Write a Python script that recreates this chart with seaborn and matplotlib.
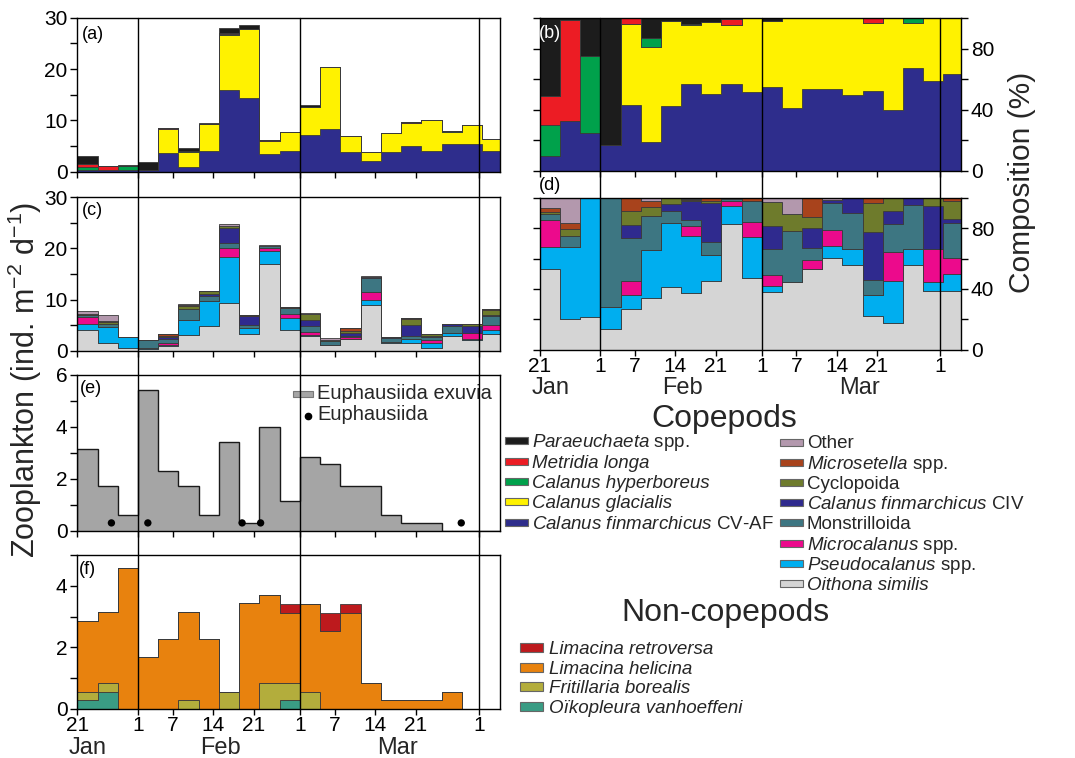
import numpy as np
import pandas as pd
import matplotlib
matplotlib.use("Agg")
import matplotlib.pyplot as plt
import seaborn as sns
from matplotlib.patches import Rectangle
from matplotlib.lines import Line2D
from matplotlib.ticker import MultipleLocator, FixedLocator
from matplotlib.transforms import blended_transform_factory

# ---------------- data ----------------
# sampling periods (day of year, 1 = 1 Jan), 3.5-day bins
bin_edges = [21.5, 25, 28.5, 32, 35.5, 39, 42.5, 46, 49.5, 53, 56.5,
             60, 63.5, 67, 70.5, 74, 77.5, 81, 84.5, 88, 91.5, 95]

tick_days = [21.5, 32, 38, 45, 52, 60, 66, 73, 80, 91]
tick_labels = ["21", "1", "7", "14", "21", "1", "7", "14", "21", "1"]
month_names = ["Jan", "Feb", "Mar"]
month_days = [23.3, 46.3, 76.9]
month_lines = [32, 60, 91]

# (a) large copepods: totals (ind. m-2 d-1) and (b) composition (%)
total_large = [3.05, 1.1, 1.4, 1.8, 8.6, 4.7, 9.5, 27.9, 28.5, 6.2, 7.8,
               12.9, 20.3, 6.95, 3.9, 7.5, 9.7, 10.1, 7.9, 9.1, 6.3]
pct_cfin_cv = [10, 33, 25, 17, 43, 19, 42.5, 57, 50.5, 57, 52,
               55, 41, 54, 53.5, 50, 52.5, 40, 67.5, 59, 63.5]
pct_glacialis = [0, 0, 0, 0, 53.5, 62, 56, 38.5, 47, 38.5, 48,
                 43, 59, 46, 46.5, 50, 44.5, 60, 29.5, 41, 36.5]
pct_hyperboreus = [20, 0, 50, 0, 0, 6, 0, 0.5, 0, 0, 0,
                   0, 0, 0, 0, 0, 0, 0, 3, 0, 0]
pct_metridia = [19, 66, 0, 0, 3.5, 0, 0, 0.5, 0, 4, 0,
                0, 0, 0, 0, 0, 3, 0, 0, 0, 0]
pct_paraeuchaeta = [51, 1, 25, 83, 0, 13, 1.5, 3.5, 2.5, 0.5, 0,
                    2, 0, 0, 0, 0, 0, 0, 0, 0, 0]

# (c) small copepods: totals and (d) composition (%)
total_small = [7.8, 7.0, 2.6, 2.1, 3.2, 9.2, 11.7, 24.7, 7.0, 20.6, 8.6,
               7.4, 2.4, 4.4, 14.7, 2.7, 6.4, 3.2, 5.15, 5.15, 8.15]
pct_oithona = [53, 20.5, 21.5, 14, 27, 34, 41, 37.5, 45.5, 82.5, 47,
               38, 44.5, 53, 60.5, 56, 22.5, 18, 56, 39, 39]
pct_pseudocalanus = [14.5, 47, 78.5, 14, 9, 31.5, 42, 37, 17, 12, 27,
                     4, 0, 0, 7.5, 10.5, 13.5, 27, 10.5, 5.5, 11]
pct_microcalanus = [18, 0, 0, 0, 9, 0, 0, 6.5, 0, 3, 10,
                    7.5, 0, 6, 10.5, 0, 0, 19, 0, 22, 10.5]
pct_monstrilloida = [3.5, 7, 0, 72, 28.5, 22.5, 8, 4, 8.5, 1.5, 13.5,
                     16.5, 33.5, 8, 18, 23.5, 10, 18.5, 28.5, 0, 22.5]
pct_cfin_civ = [0, 0, 0, 0, 8.5, 0, 4.5, 12.5, 25.5, 0, 0,
                15.5, 0, 13, 2, 10, 31.5, 8.5, 5, 28, 3]
pct_cyclopoida = [1.5, 5, 0, 0, 9, 6, 4.5, 1, 1, 0, 0,
                  15.5, 11, 7.5, 0, 0, 19, 9, 0, 5.5, 11.5]
pct_microsetella = [2.5, 4, 0, 0, 8.5, 4, 0, 0.5, 2.5, 0, 2.5,
                    0, 0, 12.5, 0, 0, 3.5, 0, 0, 0, 2.5]
pct_other = [7, 16.5, 0, 0, 0.5, 2, 0, 1, 0, 1, 0,
             3, 11, 0, 1.5, 0, 0, 0, 0, 0, 0]

# (e) euphausiids
exuvia = [3.14, 1.72, 0.59, 5.42, 2.29, 1.72, 0.59, 3.42, 0.31, 3.98, 1.13,
          2.85, 2.57, 1.72, 1.72, 0.59, 0.31, 0.31, 0, 0, 0]
euph_day = [27.4, 33.7, 50.0, 53.2, 87.9]
euph_val = [0.3, 0.3, 0.3, 0.3, 0.3]

# (f) non-copepods
oikopleura = [0.29, 0.56, 0, 0, 0, 0, 0, 0, 0, 0, 0.29,
              0, 0, 0, 0, 0, 0, 0, 0, 0, 0]
fritillaria = [0.27, 0.27, 0, 0, 0, 0.29, 0, 0.56, 0, 0.83, 0.54,
               0.56, 0, 0, 0, 0, 0, 0, 0, 0, 0]
l_helicina = [2.30, 2.33, 4.59, 1.70, 2.27, 2.85, 2.27, 0, 3.43, 2.87, 2.30,
              2.85, 2.54, 3.13, 0.85, 0.29, 0.29, 0.29, 0.56, 0, 0]
l_retroversa = [0, 0, 0, 0, 0, 0, 0, 0, 0, 0, 0.28,
                0, 0.59, 0.28, 0, 0, 0, 0, 0, 0, 0]

# colours
c_para, c_metr, c_hyp, c_glac, c_cv = "#1c1c1c", "#ec1c24", "#00a14b", "#fff200", "#2e2d8c"
c_other, c_msetella, c_cyclo, c_civ = "#b398ad", "#a8431c", "#6e7b2c", "#2f2a8e"
c_monst, c_mcal, c_pseu, c_oith = "#3d7682", "#ec0a8c", "#00aeef", "#d5d5d5"
c_lret, c_lhel, c_frit, c_oiko = "#bd1a1d", "#e8820e", "#b3ad3c", "#3a9c84"
c_exuv = "#a5a5a5"

# ---------------- style ----------------
sns.set_theme(style="ticks", rc={"axes.edgecolor": "black", "xtick.color": "black",
                                 "ytick.color": "black", "axes.linewidth": 1.0})
plt.rcParams["font.family"] = ["Liberation Sans", "DejaVu Sans"]
plt.rcParams["mathtext.fontset"] = "custom"
plt.rcParams["mathtext.rm"] = "Liberation Sans"
plt.rcParams["mathtext.it"] = "Liberation Sans:italic"

W, H = 1075, 758
fig = plt.figure(figsize=(W / 100, H / 100), dpi=100)


def rect(l, t, r, b):
    return [l / W, 1 - b / H, (r - l) / W, (b - t) / H]


ax_a = fig.add_axes(rect(77.3, 17.7, 500, 171.7))
ax_c = fig.add_axes(rect(77.3, 197.3, 500, 350.7))
ax_e = fig.add_axes(rect(77.3, 375, 500, 530.7))
ax_f = fig.add_axes(rect(77.3, 555, 500, 709))
ax_b = fig.add_axes(rect(540, 18.3, 961, 171))
ax_d = fig.add_axes(rect(540, 197.5, 961, 350))

edges = np.array(bin_edges)
XLIM = (21.5, 94.6)
EDGE = "#3a3a3a"


def stack(ax, layers, colors, lw=0.6):
    base = np.zeros(len(edges) - 1)
    for vals, col in zip(layers, colors):
        top = base + np.asarray(vals, dtype=float)
        ax.stairs(top, edges, baseline=base, fill=True, facecolor=col,
                  edgecolor=EDGE, linewidth=lw)
        base = top


large_pct = [pct_cfin_cv, pct_glacialis, pct_hyperboreus, pct_metridia, pct_paraeuchaeta]
large_col = [c_cv, c_glac, c_hyp, c_metr, c_para]
small_pct = [pct_oithona, pct_pseudocalanus, pct_microcalanus, pct_monstrilloida,
             pct_cfin_civ, pct_cyclopoida, pct_microsetella, pct_other]
small_col = [c_oith, c_pseu, c_mcal, c_monst, c_civ, c_cyclo, c_msetella, c_other]

tl = np.array(total_large)
ts = np.array(total_small)
stack(ax_a, [tl * np.array(p) / 100 for p in large_pct], large_col)
stack(ax_b, large_pct, large_col)
stack(ax_c, [ts * np.array(p) / 100 for p in small_pct], small_col)
stack(ax_d, small_pct, small_col)

ax_e.stairs(exuvia, edges, fill=True, facecolor=c_exuv, edgecolor="#1a1a1a", linewidth=1.0)
sns.scatterplot(x=euph_day, y=euph_val, ax=ax_e, color="black", s=28,
                edgecolor="none", legend=False, zorder=5)

stack(ax_f, [oikopleura, fritillaria, l_helicina, l_retroversa],
      [c_oiko, c_frit, c_lhel, c_lret])

# ---------------- axes formatting ----------------
TFS = 15
for ax in [ax_a, ax_c, ax_e, ax_f, ax_b, ax_d]:
    ax.set_xlim(*XLIM)
    ax.xaxis.set_major_locator(FixedLocator(tick_days))
    ax.tick_params(axis="both", which="both", direction="out", length=5, width=1,
                   labelsize=TFS, pad=2)
    ax.tick_params(axis="x", which="both", length=4, pad=1)
    for s in ax.spines.values():
        s.set_visible(True)
        s.set_color("black")
        s.set_linewidth(1.0)
    ax.set_xlabel("")
    ax.set_ylabel("")

for ax in [ax_a, ax_c, ax_e, ax_b]:
    ax.set_xticklabels([])
for ax in [ax_f, ax_d]:
    ax.set_xticklabels(tick_labels)
    tr = blended_transform_factory(ax.transData, fig.transFigure)
    bbox = ax.get_position()
    ybase = bbox.y0 - 44.5 / H
    for name, d in zip(month_names, month_days):
        ax.text(d, ybase, name, transform=tr, ha="center", va="baseline", fontsize=17)

for ax in [ax_a, ax_c]:
    ax.set_ylim(0, 30)
    ax.set_yticks([0, 10, 20, 30])
    ax.yaxis.set_minor_locator(MultipleLocator(5))
ax_e.set_ylim(0, 6)
ax_e.set_yticks([0, 2, 4, 6])
ax_e.yaxis.set_minor_locator(MultipleLocator(1))
ax_f.set_ylim(0, 5)
ax_f.set_yticks([0, 2, 4])
ax_f.yaxis.set_minor_locator(FixedLocator([1, 3, 5]))

for ax in [ax_b, ax_d]:
    ax.set_ylim(0, 100)
    ax.set_yticks([0, 20, 40, 60, 80, 100])
    ax.set_yticklabels(["0", "", "40", "", "80", ""])
    ax.tick_params(axis="y", left=True, right=True, labelleft=False, labelright=True)

# panel letters
for ax, lab, x, y, col in [(ax_a, "(a)", 0.01, 0.89, "black"), (ax_b, "(b)", -0.003, 0.90, "white"),
                           (ax_c, "(c)", 0.01, 0.917, "black"), (ax_d, "(d)", -0.003, 1.08, "black"),
                           (ax_e, "(e)", 0.006, 0.916, "black"), (ax_f, "(f)", 0.003, 0.903, "black")]:
    ax.text(x, y, lab, transform=ax.transAxes, ha="left", va="center", fontsize=13,
            color=col, zorder=20)

# month boundary lines spanning the panel columns
for axref, ytop, ybot in [(ax_a, 17.7, 709), (ax_b, 18.3, 350)]:
    tr = blended_transform_factory(axref.transData, fig.transFigure)
    for d in month_lines:
        fig.add_artist(Line2D([d, d], [1 - ybot / H, 1 - ytop / H], transform=tr,
                              color="black", linewidth=1.0, zorder=10))

# (e) legend
fig.add_artist(Rectangle((292.7 / W, 1 - 396.7 / H), 20.6 / W, 6 / H, transform=fig.transFigure,
                         facecolor=c_exuv, edgecolor="#777777", linewidth=0.8))
fig.text(317.3 / W, 1 - (393.3 + 5.5) / H, "Euphausiida exuvia", fontsize=14.5, va="baseline")
fig.add_artist(Line2D([308.3 / W], [1 - 415.5 / H], transform=fig.transFigure, marker="o",
                      markersize=4.5, color="black", linestyle="none"))
fig.text(317.3 / W, 1 - (415 + 5.5) / H, "Euphausiida", fontsize=14.5, va="baseline")

# axis titles
fig.text(25 / W, 1 - 380 / H, r"Zooplankton (ind. m$^{-2}$ d$^{-1}$)", rotation=90,
         ha="center", va="center", fontsize=22)
fig.text(1021.7 / W, 1 - 182.5 / H, "Composition (%)", rotation=90,
         ha="center", va="center", fontsize=21.5)


# legends
def entry(px, py, color, label, pw=23, ph=7, off=27, fs=13.5, italic=False):
    fig.add_artist(Rectangle((px / W, 1 - (py + ph / 2) / H), pw / W, ph / H,
                             transform=fig.transFigure, facecolor=color,
                             edgecolor="#666666", linewidth=0.8))
    fig.text((px + off) / W, 1 - (py + 6.5) / H, label, fontsize=fs, va="baseline",
             ha="left", style="italic" if italic else "normal")


fig.text(724 / W, 1 - 419 / H, "Copepods", fontsize=23, ha="center", va="center")
cop_left = [(c_para, r"$\mathit{Paraeuchaeta}$ spp.", False),
            (c_metr, "Metridia longa", True),
            (c_hyp, "Calanus hyperboreus", True),
            (c_glac, "Calanus glacialis", True),
            (c_cv, r"$\mathit{Calanus\ finmarchicus}$ CV-AF", False)]
for i, (col, lab, it) in enumerate(cop_left):
    entry(505, 440.7 + 20.4 * i, col, lab, italic=it)
cop_right = [(c_other, "Other", False),
             (c_msetella, r"$\mathit{Microsetella}$ spp.", False),
             (c_cyclo, "Cyclopoida", False),
             (c_civ, r"$\mathit{Calanus\ finmarchicus}$ CIV", False),
             (c_monst, "Monstrilloida", False),
             (c_mcal, r"$\mathit{Microcalanus}$ spp.", False),
             (c_pseu, r"$\mathit{Pseudocalanus}$ spp.", False),
             (c_oith, "Oithona similis", True)]
for i, (col, lab, it) in enumerate(cop_right):
    entry(780, 442 + 20.2 * i, col, lab, italic=it)

fig.text(725 / W, 1 - 613 / H, "Non-copepods", fontsize=23, ha="center", va="center")
noncop = [(c_lret, "Limacina retroversa"), (c_lhel, "Limacina helicina"),
          (c_frit, "Fritillaria borealis"), (c_oiko, "Oïkopleura vanhoeffeni")]
for i, (col, lab) in enumerate(noncop):
    entry(520, 647.3 + 19.8 * i, col, lab, ph=9, off=29, italic=True)

fig.savefig("out.png", dpi=100)
